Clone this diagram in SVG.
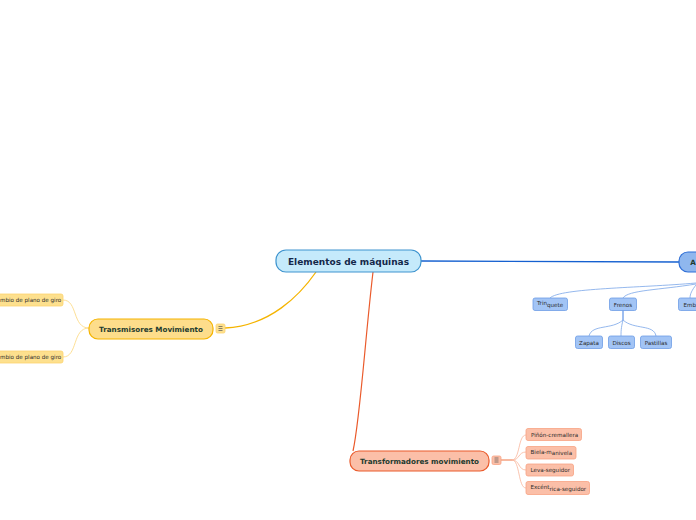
<svg xmlns="http://www.w3.org/2000/svg" width="696" height="520" viewBox="0 0 696 520">
<style>
text{font-family:"DejaVu Sans","Liberation Sans",sans-serif}
.main{fill:#c5eafb;stroke:#3e94cf;stroke-width:1.2}
.mt{font-size:9px;font-weight:bold;fill:#14284a;text-anchor:middle}
.ylw{fill:#fddd8b;stroke:#f5b400;stroke-width:1.2}
.org{fill:#fbbfa8;stroke:#ea5a2b;stroke-width:1.2}
.blu{fill:#8fb7ee;stroke:#2f6fd6;stroke-width:1.2}
.st{font-size:7.2px;font-weight:bold;fill:#1d3b2f;text-anchor:middle}
.yl{fill:#fde08e;stroke:#fcd36e;stroke-width:0.8}
.ol{fill:#fbbfa8;stroke:#f7a283;stroke-width:0.8}
.bl{fill:#a2c4f5;stroke:#6d9de6;stroke-width:0.8}
.lt{font-size:5.6px;fill:#2a2a2a}
.ic{stroke-width:0.8}
.il{stroke:#555;stroke-width:0.7}
</style>
<g id="connectors" fill="none">
<path d="M421,261 C520,262 600,262 679,262" stroke="#1560d0" stroke-width="1.3"/>
<path d="M225,328 C270,326 300,295 316,272" stroke="#f5b400" stroke-width="1.3"/>
<path d="M373,272 C365,340 360,420 353,451" stroke="#ea5a2b" stroke-width="1.2"/>
<path d="M89,328 C72,328 78,300 63,300" stroke="#fdd77a" stroke-width="0.8"/>
<path d="M89,328 C72,328 78,357 63,357" stroke="#fdd77a" stroke-width="0.8"/>
<path d="M501,460 L512,460" stroke="#f28a62" stroke-width="1.2"/>
<path d="M512,460 C520,460 518,435 526,435" stroke="#f9b59b" stroke-width="0.8"/>
<path d="M512,460 C520,460 518,452 526,452" stroke="#f9b59b" stroke-width="0.8"/>
<path d="M512,460 C520,460 518,470 526,470" stroke="#f9b59b" stroke-width="0.8"/>
<path d="M512,460 C520,460 518,488 526,488" stroke="#f9b59b" stroke-width="0.8"/>
<path d="M696,283 C640,288 560,288 550,298" stroke="#7aa6e8" stroke-width="0.8"/>
<path d="M696,284 C660,290 628,290 623,298" stroke="#7aa6e8" stroke-width="0.8"/>
<path d="M696,285 C692,290 690,294 690,298" stroke="#7aa6e8" stroke-width="0.8"/>
<path d="M623,310 L623,320" stroke="#3f7de0" stroke-width="1"/>
<path d="M623,320 C612,330 592,324 589,336" stroke="#7aa6e8" stroke-width="0.8"/>
<path d="M623,320 C621,328 621,332 621,336" stroke="#7aa6e8" stroke-width="0.8"/>
<path d="M623,320 C634,330 654,324 656,336" stroke="#7aa6e8" stroke-width="0.8"/>
</g>
<g id="main">
<rect class="main" x="276" y="250" width="145" height="22" rx="10"/>
<text class="mt" x="348.5" y="264.5">Elementos de máquinas</text>
</g>
<g id="node-a">
<rect class="blu" x="679" y="252" width="40" height="20" rx="9"/>
<text class="st" x="693" y="265">A</text>
</g>
<g id="transmisores">
<rect class="ylw" x="89" y="319" width="124" height="20" rx="9"/>
<text class="st" x="151" y="331.5">Transmisores Movimiento</text>
<rect class="yl ic" x="216" y="324" width="9" height="9" rx="1.5"/>
<path class="il" d="M218.5,326.5h4M218.5,328.5h4M218.5,330.5h4"/>
</g>
<g id="leaf-t1">
<rect class="yl" x="-20" y="294" width="83" height="12" rx="2"/>
<text class="lt" x="0" y="302">mbio de plano de giro</text>
</g>
<g id="leaf-t2">
<rect class="yl" x="-20" y="351" width="83" height="12" rx="2"/>
<text class="lt" x="0" y="359">mbio de plano de giro</text>
</g>
<g id="transformadores">
<rect class="org" x="350" y="451" width="139" height="20" rx="9"/>
<text class="st" x="419.5" y="463.5">Transformadores movimiento</text>
<rect class="ol ic" x="492" y="456" width="9" height="8.5" rx="1.5"/>
<path class="il" d="M494.5,458h4M494.5,460h4M494.5,462h4"/>
</g>
<g id="pinon">
<rect class="ol" x="526" y="428.5" width="55.5" height="12" rx="2"/>
<text class="lt" x="531" y="436.5">Piñón-cremallera</text>
</g>
<g id="biela">
<rect class="ol" x="526" y="446.5" width="50" height="12.5" rx="2"/>
<text class="lt" x="530.5" y="454">Biela-m<tspan dy="1.2">anivela</tspan></text>
</g>
<g id="leva">
<rect class="ol" x="526" y="464" width="47.5" height="12" rx="2"/>
<text class="lt" x="530.5" y="472">Leva-seguidor</text>
</g>
<g id="excentrica">
<rect class="ol" x="526" y="481.5" width="63.5" height="13" rx="2"/>
<text class="lt" x="530.5" y="489">Excént<tspan dy="1.5">rica-seguidor</tspan></text>
</g>
<g id="trinquete">
<rect class="bl" x="533" y="298" width="34.5" height="12.5" rx="2"/>
<text class="lt" x="537" y="305.3">Trin<tspan dy="1.2">quete</tspan></text>
</g>
<g id="frenos">
<rect class="bl" x="609.5" y="298" width="27" height="12.5" rx="2"/>
<text class="lt" x="623" y="306.5" text-anchor="middle">Frenos</text>
</g>
<g id="emb">
<rect class="bl" x="678.5" y="298" width="40" height="12.5" rx="2"/>
<text class="lt" x="683.5" y="306.5">Emb</text>
</g>
<g id="zapata">
<rect class="bl" x="575.5" y="336" width="27" height="12.5" rx="2"/>
<text class="lt" x="589" y="344.5" text-anchor="middle">Zapata</text>
</g>
<g id="discos">
<rect class="bl" x="608.5" y="336" width="26" height="12.5" rx="2"/>
<text class="lt" x="621.5" y="344.5" text-anchor="middle">Discos</text>
</g>
<g id="pastillas">
<rect class="bl" x="640.5" y="336" width="31" height="12.5" rx="2"/>
<text class="lt" x="656" y="344.5" text-anchor="middle">Pastillas</text>
</g>
</svg>
